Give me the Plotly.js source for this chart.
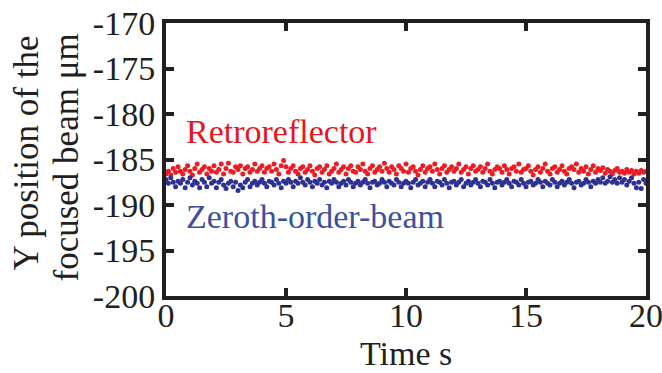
<!DOCTYPE html>
<html>
<head>
<meta charset="utf-8">
<script src="https://cdn.plot.ly/plotly-3.0.1.min.js"></script>
<style>
  html, body { margin: 0; padding: 0; background: #ffffff; }
  #chart { width: 662px; height: 373px; }
</style>
</head>
<body>
<div id="chart"></div>
<script>
// Beam position samples (μm), one every 0.1 s from 0 to 20 s
const retroreflector = [
  -186.6,-186.3,-186.7,-186.0,-186.4,-185.8,-186.3,-186.6,-186.1,-185.7,
  -186.3,-186.7,-186.0,-185.5,-186.4,-186.1,-185.8,-186.6,-186.0,-186.3,
  -185.7,-186.4,-186.1,-185.5,-186.6,-186.0,-185.4,-186.3,-186.4,-185.8,
  -186.1,-185.7,-186.6,-186.0,-185.8,-186.4,-186.1,-185.5,-186.3,-186.0,
  -185.7,-186.4,-186.0,-185.8,-186.3,-185.5,-186.1,-186.6,-185.7,-185.1,
  -185.8,-186.4,-186.0,-185.7,-186.3,-186.6,-186.0,-185.8,-186.4,-186.1,
  -185.7,-186.3,-186.7,-186.0,-185.8,-186.4,-186.1,-185.7,-186.6,-186.3,
  -186.0,-185.5,-186.4,-186.1,-185.8,-186.6,-186.0,-185.7,-186.3,-186.4,
  -185.8,-186.1,-185.5,-186.3,-186.6,-186.0,-185.7,-186.4,-186.1,-185.8,
  -186.3,-185.4,-186.0,-186.4,-185.8,-186.1,-186.6,-185.7,-186.0,-186.3,
  -185.5,-186.4,-186.0,-185.8,-186.3,-186.7,-186.1,-185.7,-186.4,-186.0,
  -185.8,-186.3,-185.5,-186.1,-186.6,-186.0,-185.7,-186.4,-186.1,-185.8,
  -186.3,-186.0,-185.5,-186.4,-186.1,-185.8,-186.6,-186.0,-185.7,-186.3,
  -186.1,-185.8,-186.4,-186.0,-185.5,-186.3,-186.6,-186.1,-185.8,-186.0,
  -186.4,-185.7,-186.1,-186.6,-186.0,-185.8,-186.3,-185.5,-186.4,-186.1,
  -186.0,-185.7,-186.3,-186.7,-186.1,-185.8,-186.4,-186.0,-185.5,-186.3,
  -186.6,-186.0,-185.8,-186.4,-186.1,-185.7,-186.3,-186.6,-186.0,-185.8,
  -186.1,-185.5,-186.4,-186.0,-186.3,-185.8,-186.6,-186.1,-185.7,-186.4,
  -186.0,-186.2,-185.9,-186.5,-186.1,-186.3,-186.6,-186.2,-186.0,-186.4,
  -186.3,-186.5,-186.1,-186.4,-186.2,-186.6,-186.3,-186.5,-186.2,-186.4,
  -186.3
];

const zerothOrder = [
  -187.2,-187.6,-187.0,-187.5,-188.0,-187.4,-187.6,-187.2,-188.1,-187.5,
  -187.0,-187.8,-187.4,-187.6,-188.1,-187.2,-187.5,-188.0,-187.0,-187.6,
  -187.4,-188.1,-187.5,-187.2,-187.8,-188.2,-187.6,-187.4,-188.0,-187.5,
  -188.4,-187.8,-188.1,-187.5,-187.2,-188.0,-187.6,-187.4,-187.8,-187.5,
  -187.2,-187.6,-188.0,-187.4,-187.5,-187.8,-187.2,-187.6,-188.1,-187.4,
  -187.6,-187.2,-187.5,-188.0,-187.4,-187.6,-187.0,-187.5,-187.8,-187.2,
  -187.5,-188.0,-187.4,-187.6,-187.2,-187.8,-187.5,-188.1,-187.4,-187.6,
  -187.2,-187.5,-188.0,-187.6,-187.4,-187.8,-187.2,-187.5,-188.0,-187.6,
  -187.4,-187.8,-187.5,-187.2,-187.6,-188.1,-187.5,-187.4,-187.8,-187.6,
  -187.2,-187.5,-188.0,-187.4,-187.6,-187.8,-187.2,-187.5,-188.0,-187.6,
  -187.4,-187.6,-188.1,-187.5,-187.2,-187.8,-187.6,-187.4,-188.0,-187.5,
  -187.2,-187.6,-188.0,-187.4,-187.5,-187.8,-187.2,-187.6,-188.1,-187.5,
  -187.4,-187.8,-187.5,-187.2,-188.0,-187.6,-187.4,-187.8,-187.5,-187.2,
  -187.6,-188.0,-187.4,-187.5,-187.8,-187.2,-187.6,-188.1,-187.5,-187.4,
  -187.8,-187.5,-187.2,-187.6,-188.0,-187.4,-187.5,-187.8,-187.2,-187.6,
  -188.0,-187.5,-187.4,-187.8,-187.6,-187.2,-187.5,-188.0,-187.4,-187.6,
  -187.8,-187.2,-187.5,-188.0,-187.6,-187.4,-187.8,-187.5,-187.2,-187.6,
  -188.1,-187.5,-187.4,-187.8,-187.6,-187.2,-187.5,-188.0,-187.4,-187.6,
  -187.2,-187.5,-187.0,-187.6,-187.4,-186.9,-187.5,-187.2,-187.6,-187.0,
  -187.5,-187.2,-187.8,-187.4,-187.0,-187.6,-188.1,-187.5,-188.2,-187.2,
  -187.6
];

const sampleStart = 0;      // s
const sampleStep = 0.1;     // s
const xTicks = [0, 5, 10, 15, 20];
const xTickText = ['0', '5', '10', '15', '20'];
const yTicks = [-200, -195, -190, -185, -180, -175, -170];
const yTickText = ['-200', '-195', '-190', '-185', '-180', '-175', '-170'];

const RED = '#ec1c24';
const BLUE = '#2e3192';
const INK = '#231f20';
const FONT = 'Liberation Serif, Times New Roman, serif';
const SIZE = 34;

const traces = [
  {
    name: 'Retroreflector',
    type: 'scatter', mode: 'markers',
    x0: sampleStart, dx: sampleStep, y: retroreflector,
    marker: { color: RED, size: 5 },
    cliponaxis: false
  },
  {
    name: 'Zeroth-order-beam',
    type: 'scatter', mode: 'markers',
    x0: sampleStart, dx: sampleStep, y: zerothOrder,
    marker: { color: BLUE, size: 5 },
    cliponaxis: false
  }
];

const axisCommon = {
  showline: true, linewidth: 4, linecolor: INK,
  mirror: 'ticks', ticks: 'inside', ticklen: 8, tickwidth: 4, tickcolor: INK,
  showgrid: false, zeroline: false,
  ticklabeloverflow: 'allow',
  tickfont: { family: FONT, size: SIZE, color: INK }
};

const layout = {
  width: 662, height: 373,
  margin: { l: 166, r: 16, t: 23, b: 77 },
  paper_bgcolor: '#ffffff', plot_bgcolor: '#ffffff',
  showlegend: false,
  font: { family: FONT, color: INK },
  xaxis: Object.assign({}, axisCommon, {
    range: [0, 20], tickvals: xTicks, ticktext: xTickText,
    ticklabelstandoff: -14
  }),
  yaxis: Object.assign({}, axisCommon, {
    range: [-200, -170], tickvals: yTicks, ticktext: yTickText
  }),
  annotations: [
    // axis titles
    { text: 'Time s', xref: 'paper', yref: 'paper', x: 0.5, y: 0,
      xanchor: 'center', yanchor: 'middle', yshift: -57, showarrow: false,
      font: { family: FONT, size: SIZE, color: INK } },
    { text: 'Y position of the', xref: 'paper', yref: 'paper', x: 0, y: 0.5,
      xanchor: 'center', yanchor: 'middle', xshift: -140, yshift: 6,
      textangle: -90, showarrow: false,
      font: { family: FONT, size: 35, color: INK } },
    { text: 'focused beam μm', xref: 'paper', yref: 'paper', x: 0, y: 0.5,
      xanchor: 'center', yanchor: 'middle', xshift: -100, yshift: 2,
      textangle: -90, showarrow: false,
      font: { family: FONT, size: 35, color: INK } },
    // series labels
    { text: 'Retroreflector', xref: 'x', yref: 'y', x: 0.75, y: -181.9,
      xanchor: 'left', yanchor: 'middle', showarrow: false,
      font: { family: FONT, size: SIZE, color: '#e3181f' } },
    { text: 'Zeroth-order-beam', xref: 'x', yref: 'y', x: 0.75, y: -191.3,
      xanchor: 'left', yanchor: 'middle', showarrow: false,
      font: { family: FONT, size: SIZE, color: '#3a51a0' } }
  ]
};

Plotly.newPlot('chart', traces, layout, { staticPlot: true, displayModeBar: false });
</script>
</body>
</html>
